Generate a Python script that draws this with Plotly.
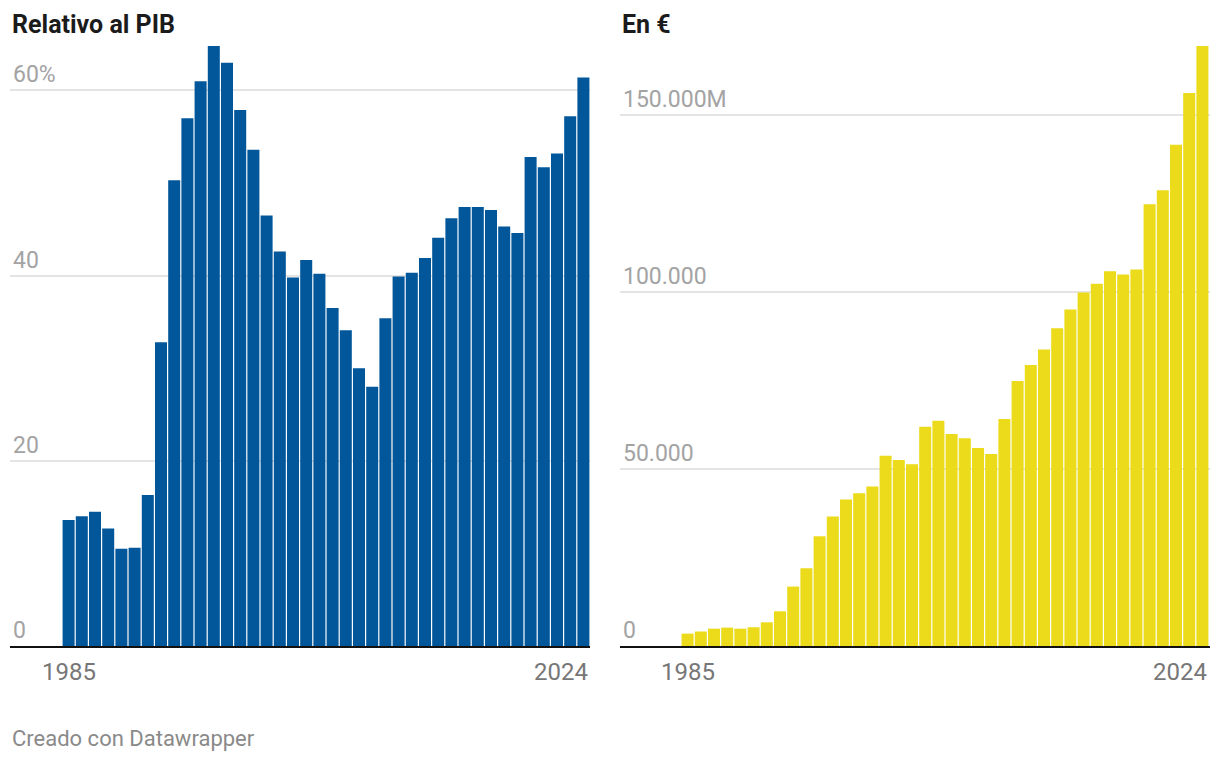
import plotly.graph_objects as go

years = list(range(1985, 2025))

pct_gdp = [13.6, 14.0, 14.5, 12.7, 10.5, 10.6, 16.3, 32.8, 50.3, 57.0,
           61.0, 64.8, 63.0, 57.9, 53.6, 46.5, 42.6, 39.8, 41.7, 40.2,
           36.5, 34.1, 30.0, 28.0, 35.4, 39.9, 40.3, 41.9, 44.1, 46.2,
           47.4, 47.4, 47.1, 45.3, 44.6, 52.8, 51.7, 53.2, 57.2, 61.4]

eur_millions = [3500, 4100, 4900, 5200, 4900, 5300, 6700, 9800, 16800, 22000,
                31000, 36600, 41400, 43200, 45100, 53800, 52600, 51400, 62000, 63700,
                59900, 58700, 56000, 54300, 64200, 74900, 79400, 83800, 89800, 95100,
                99900, 102400, 105900, 105000, 106400, 124900, 128800, 141700, 156300, 169600]

left_ticks = [0, 20, 40, 60]
left_ticktext = ["0", "20", "40", "60%"]
right_ticks = [0, 50000, 100000, 150000]
right_ticktext = ["0", "50.000", "100.000", "150.000M"]

titles = ["Relativo al PIB", "En €"]
x_labels = [1985, 2024]
footer = "Creado con Datawrapper"

# page body has an 8px margin; figure is sized to fit the 1220x762 window
OFF = 8
W, H = 1220 - 2 * OFF, 762 - 2 * OFF
FONT = "Roboto"
BLUE = "#02579a"
YELLOW = "#ecdb1b"
GRID = "#e4e4e4"
TICKC = "#a3a3a3"
XLABC = "#777777"

fig = go.Figure()
fig.add_trace(go.Bar(x=years, y=pct_gdp, marker=dict(color=BLUE, line=dict(width=0)),
                     xaxis="x", yaxis="y", hoverinfo="x+y"))
fig.add_trace(go.Bar(x=years, y=eur_millions, marker=dict(color=YELLOW, line=dict(width=0)),
                     xaxis="x2", yaxis="y2", hoverinfo="x+y"))

def px_x(p):
    return (p - OFF) / W

def px_y(p):
    return 1 - (p - OFF) / H

bar_w = 13.2
xl0, xl1 = 10, 590
xr0, xr1 = 620, 1210
first_left_px, first_right_px = 62, 681

yaxis_common = dict(showgrid=True, gridcolor=GRID, gridwidth=1.6, zeroline=False,
                    showline=False, ticks="", ticklabelposition="inside top",
                    tickfont=dict(family=FONT, size=23, color=TICKC), fixedrange=True)

fig.update_layout(
    width=W, height=H,
    margin=dict(l=0, r=0, t=0, b=0),
    paper_bgcolor="white", plot_bgcolor="white",
    showlegend=False, bargap=0.09,
    font=dict(family=FONT),
    xaxis=dict(domain=[px_x(xl0), px_x(xl1)],
               range=[years[0] - 0.5 - (first_left_px - xl0) / bar_w, years[-1] + 0.5],
               showticklabels=False, showgrid=False, zeroline=False, ticks="",
               showline=True, linecolor="#111111", linewidth=2, anchor="y"),
    yaxis=dict(domain=[px_y(646), px_y(46)], range=[0, max(pct_gdp)],
               tickvals=left_ticks, ticktext=left_ticktext, anchor="x", **yaxis_common),
    xaxis2=dict(domain=[px_x(xr0), px_x(xr1)],
                range=[years[0] - 0.5 - (first_right_px - xr0) / bar_w, years[-1] + 0.5 + 1 / bar_w],
                showticklabels=False, showgrid=False, zeroline=False, ticks="",
                showline=True, linecolor="#111111", linewidth=2, anchor="y2"),
    yaxis2=dict(domain=[px_y(646), px_y(46)], range=[0, max(eur_millions)],
                tickvals=right_ticks, ticktext=right_ticktext, anchor="x2", **yaxis_common),
)

anns = []
for x0, t in [(px_x(xl0), titles[0]), (px_x(xr0), titles[1])]:
    anns.append(dict(text=f"<b>{t}</b>", xref="paper", yref="paper", x=x0, y=px_y(24),
                     xanchor="left", yanchor="middle", showarrow=False,
                     font=dict(family=FONT, size=25, color="#1b1b1b")))
for xr in ["x", "x2"]:
    anns.append(dict(text=str(x_labels[0]), xref=xr, yref="paper", x=x_labels[0], y=px_y(672),
                     xanchor="center", yanchor="middle", showarrow=False,
                     font=dict(family=FONT, size=24, color=XLABC)))
    anns.append(dict(text=str(x_labels[1]), xref=xr, yref="paper", x=x_labels[1] + 0.5, y=px_y(672),
                     xanchor="right", yanchor="middle", showarrow=False,
                     font=dict(family=FONT, size=24, color=XLABC)))
anns.append(dict(text=footer, xref="paper", yref="paper", x=px_x(10), y=px_y(738),
                 xanchor="left", yanchor="middle", showarrow=False,
                 font=dict(family=FONT, size=22, color="#8a8a8a")))
fig.update_layout(annotations=anns)

fig.write_html("out.html", config={"displayModeBar": False})
